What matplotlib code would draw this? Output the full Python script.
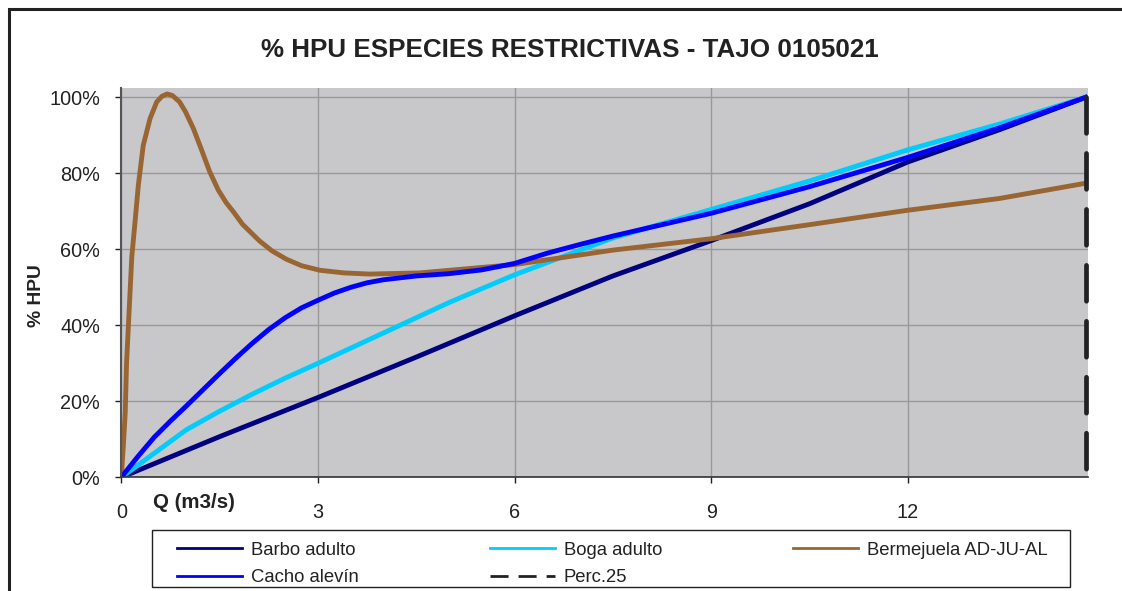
import numpy as np
import matplotlib
matplotlib.use('Agg')
import matplotlib.pyplot as plt
from matplotlib.lines import Line2D
from matplotlib.patches import Rectangle
from matplotlib.ticker import FuncFormatter

plt.rcParams['font.family'] = ['Liberation Sans', 'DejaVu Sans']

# caudal Q (m3/s) y % HPU
q_barbo = [0, 1.5, 3, 4.55, 6, 7.5, 9, 10.5, 12, 13.4, 14.71]
hpu_barbo = [0, 10.7, 21, 32, 42.5, 53, 62.3, 72, 83, 91.5, 100]

q_boga = [0, 0.5, 1, 1.5, 2, 2.5, 3, 4, 5, 6, 7.5, 9, 10.5, 12, 13.4, 14.71]
hpu_boga = [0, 6.3, 12.6, 17.4, 21.9, 26.1, 30, 38, 46, 53.3, 63, 70.5, 78, 86.2, 93, 100]

q_bermejuela = [0, 0.03, 0.06, 0.08, 0.13, 0.16, 0.21, 0.26, 0.335, 0.44, 0.54, 0.62,
                0.7, 0.78, 0.89, 0.98, 1.1, 1.22, 1.35, 1.48, 1.6, 1.71, 1.85, 2.11,
                2.3, 2.52, 2.75, 3.03, 3.4, 3.79, 4.55,
                6, 7.5, 9, 10.5, 12, 13.4, 14.71]
hpu_bermejuela = [0, 8, 17, 30, 47.5, 58, 67.3, 76.9, 87.4, 94.5, 98.8, 100.3,
                  100.9, 100.5, 98.8, 96.2, 91.8, 86.4, 80.4, 75.6, 72.3, 69.9, 66.6, 62.2,
                  59.6, 57.4, 55.7, 54.5, 53.8, 53.5, 53.8,
                  56, 59.8, 62.8, 66.5, 70.3, 73.4, 77.4]

q_cacho = [0, 0.25, 0.5, 0.75, 1, 1.25, 1.5, 1.75, 2, 2.25, 2.5, 2.75, 3, 3.25, 3.5, 3.75,
           4, 4.5, 5, 5.5, 6, 6.5, 7, 7.5, 9, 10.5, 12, 13.4, 14.71]
hpu_cacho = [0, 5.4, 10.5, 14.8, 18.9, 23.1, 27.3, 31.4, 35.3, 38.9, 42, 44.6, 46.6, 48.5, 50, 51.2,
             52, 53, 53.6, 54.6, 56.3, 59, 61.3, 63.5, 69.5, 76.5, 84.2, 92, 100]

# percentil 25, linea vertical (de arriba abajo para que el trazo empiece arriba)
q_perc25 = [14.72, 14.72]
hpu_perc25 = [100, 0]

xticks = [0, 3, 6, 9, 12]
yticks = [0, 20, 40, 60, 80, 100]

fig = plt.figure(figsize=(11.22, 5.91), dpi=100)
ax = fig.add_axes([121.3/1122, 1-477.3/591, (1088-121.3)/1122, (477.3-88.3)/591])
ax.set_facecolor('#c8c8ca')

lw = 3.5
ax.plot(q_barbo, hpu_barbo, color='#000080', lw=lw, solid_joinstyle='round')
ax.plot(q_boga, hpu_boga, color='#00ccff', lw=lw, solid_joinstyle='round')
ax.plot(q_bermejuela, hpu_bermejuela, color='#996633', lw=lw, solid_joinstyle='round')
ax.plot(q_cacho, hpu_cacho, color='#0000ff', lw=lw, solid_joinstyle='round')
ax.plot(q_perc25, hpu_perc25, color='#222222', lw=3.4, dashes=(7.6, 4.25),
        dash_capstyle='round', clip_on=False)

ax.set_xlim(0, 14.75)
ax.set_ylim(0, 102.4)
ax.set_xticks(xticks)
ax.set_yticks(yticks)
ax.yaxis.set_major_formatter(FuncFormatter(lambda v, p: '{:.0f}%'.format(v)))
ax.grid(True, color='#999999', lw=1.0)
ax.set_axisbelow(True)
for s in ['top', 'right']:
    ax.spines[s].set_visible(False)
ax.spines['left'].set_color('#555555')
ax.spines['left'].set_linewidth(1.5)
ax.spines['bottom'].set_color('#333333')
ax.spines['bottom'].set_linewidth(1.2)
ax.tick_params(axis='y', length=4.3, width=1, pad=11, labelsize=14.3, colors='#222222')
ax.tick_params(axis='x', length=4.3, width=1, pad=14, labelsize=14.3, colors='#222222')

fig.text(570/1122, 1-50/591, '% HPU ESPECIES RESTRICTIVAS - TAJO 0105021',
         ha='center', va='center', fontsize=18.7, fontweight='bold', color='#222222')
fig.text(36/1122, 1-296/591, '% HPU', rotation=90, ha='center', va='center',
         fontsize=13.9, fontweight='bold', color='#222222')
fig.text(153/1122, 1-503/591, 'Q (m3/s)', ha='left', va='center',
         fontsize=14.8, fontweight='bold', color='#222222')

# legend con lineas finas, marco aparte
handles = [Line2D([], [], color='#000080', lw=2),
           Line2D([], [], color='#0000ff', lw=2),
           Line2D([], [], color='#00ccff', lw=2),
           Line2D([], [], color='#222222', lw=2, dashes=(6.5, 3.6)),
           Line2D([], [], color='#996633', lw=2)]
labels = ['Barbo adulto', 'Cacho alevín', 'Boga adulto', 'Perc.25', 'Bermejuela AD-JU-AL']
leg = fig.legend(handles, labels, ncol=3, mode='expand',
                 bbox_to_anchor=(177/1122, 1-594/591, (1048-177)/1122, 60/591),
                 loc='center', fontsize=13.3, frameon=False,
                 handlelength=3.5, handletextpad=0.5,
                 labelspacing=0.57, borderaxespad=0, borderpad=0)
for t in leg.get_texts():
    t.set_color('#222222')
fig.patches.append(Rectangle((152/1122, 1-587.3/591), (1070-152)/1122, 57.3/591,
                             transform=fig.transFigure, fill=False,
                             edgecolor='#222222', lw=1.0))

# marco exterior
fig.patches.append(Rectangle((9/1122, -0.2), 1.5, 1.2 - 9/591, transform=fig.transFigure,
                             fill=False, edgecolor='#222222', lw=2.2))

fig.savefig('out.png', dpi=100)
